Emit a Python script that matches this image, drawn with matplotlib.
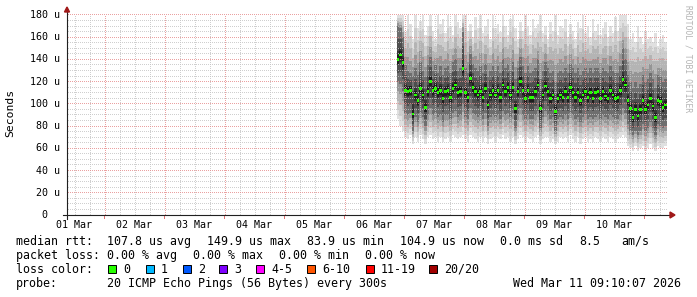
import numpy as np
import pandas as pd
import matplotlib
matplotlib.use("Agg")
import matplotlib.pyplot as plt
import matplotlib.dates as mdates
from matplotlib.patches import Rectangle, Polygon
from matplotlib.transforms import IdentityTransform

W, H = 697, 297
MONO = "DejaVu Sans Mono"

# graph window (rrdtool week view, end = graph time)
start = pd.Timestamp("2026-03-01 09:10:07")
end = pd.Timestamp("2026-03-11 09:10:07")
first = pd.Timestamp("2026-03-06 21:00")   # first hour with data

# median rtt per hour, in us
median = [140, 144, 137, 112, 111, 112, 91, 108, 103, 114, 108, 97, 111, 120, 112, 114, 110, 112, 105, 111,
          112, 106, 114, 117, 110, 111, 132, 110, 106, 123, 115, 111, 108, 111, 106, 114, 99, 108, 112, 108,
          112, 106, 117, 111, 115, 108, 115, 96, 111, 120, 112, 105, 112, 106, 106, 111, 117, 96, 108, 116,
          111, 105, 108, 93, 105, 108, 106, 111, 106, 115, 110, 106, 110, 103, 108, 111, 106, 110, 105, 110,
          111, 105, 111, 107, 105, 112, 108, 105, 106, 112, 122, 117, 103, 96, 88, 95, 89, 95, 103, 95,
          99, 105, 98, 88, 103, 102, 97, 99, 105]

# smoke: slowest ping per hour
hi_outer = [180, 180, 180, 165, 180, 172, 158, 180, 168, 175, 180, 162, 170, 180, 166, 158, 180, 172, 176, 164,
            180, 170, 162, 180, 174, 168, 180, 180, 166, 172, 160, 178, 168, 180, 164, 170, 176, 158, 180, 168,
            172, 165, 180, 170, 162, 176, 180, 168, 158, 174, 166, 180, 170, 162, 176, 168, 172, 180, 164, 170,
            158, 174, 166, 180, 162, 170, 168, 176, 160, 172, 166, 158, 174, 168, 180, 164, 170, 160, 176, 166,
            172, 162, 168, 174, 160, 170, 164, 178, 166, 180, 180, 180, 172, 158, 164, 156, 170, 160, 154, 166,
            158, 160, 156, 164, 152, 158, 162, 156, 160]

# smoke: upper edge of the dense part
hi_inner = [170, 168, 160, 135, 130, 128, 125, 132, 126, 138, 130, 124, 135, 142, 130, 136, 128, 134, 126, 132,
            134, 128, 138, 140, 130, 132, 165, 132, 128, 145, 136, 132, 130, 134, 128, 136, 124, 130, 134, 130,
            134, 128, 140, 132, 136, 130, 138, 122, 132, 142, 134, 128, 134, 128, 130, 132, 140, 122, 130, 138,
            132, 128, 130, 120, 128, 130, 128, 132, 128, 136, 132, 128, 132, 126, 130, 132, 128, 132, 128, 132,
            132, 128, 132, 130, 128, 134, 130, 128, 128, 134, 150, 140, 126, 120, 114, 120, 114, 118, 126, 120,
            122, 128, 122, 114, 126, 124, 120, 122, 126]

# smoke: lower edge of the dense part
lo_inner = [120, 118, 112, 92, 90, 92, 76, 88, 84, 92, 88, 80, 90, 96, 90, 92, 88, 90, 84, 90,
            90, 86, 92, 94, 88, 90, 100, 88, 86, 96, 92, 90, 88, 90, 86, 92, 80, 88, 90, 88,
            90, 86, 94, 90, 92, 88, 92, 78, 90, 96, 90, 86, 90, 86, 86, 90, 94, 78, 88, 94,
            90, 86, 88, 76, 86, 88, 86, 90, 86, 92, 90, 86, 88, 84, 88, 90, 86, 88, 86, 88,
            90, 86, 90, 88, 86, 90, 88, 86, 86, 90, 96, 92, 82, 76, 72, 76, 72, 76, 82, 76,
            78, 84, 78, 72, 82, 80, 78, 80, 84]

# smoke: fastest ping per hour
lo_outer = [86, 80, 76, 70, 68, 72, 64, 70, 66, 72, 68, 64, 70, 72, 68, 70, 66, 70, 66, 68,
            70, 66, 72, 70, 68, 70, 72, 68, 66, 72, 70, 68, 66, 70, 66, 70, 64, 68, 70, 66,
            70, 68, 72, 68, 70, 66, 70, 64, 68, 72, 70, 66, 70, 68, 66, 70, 72, 64, 68, 70,
            70, 66, 68, 64, 66, 70, 68, 70, 66, 72, 68, 66, 70, 64, 68, 70, 66, 68, 66, 70,
            68, 66, 70, 68, 66, 70, 68, 66, 68, 70, 72, 70, 62, 60, 58, 62, 58, 60, 62, 58,
            60, 64, 60, 58, 62, 60, 60, 62, 64]

loss_labels = ["0", "1", "2", "3", "4-5", "6-10", "11-19", "20/20"]
loss_colors = ["#26ff00", "#00b8ff", "#0059ff", "#7e00ff", "#ff00ff", "#ff5500", "#ff0000", "#a10000"]
loss_box_x = [108, 146, 183, 219, 256, 307, 366, 429]

stats_rtt = [("median rtt:", 16), ("107.8 us avg", 107), ("149.9 us max", 207), ("83.9 us min", 307),
             ("104.9 us now", 400), ("0.0 ms sd", 500), ("8.5", 579), ("am/s", 621)]
stats_loss = [("packet loss:", 16), ("0.00 % avg", 107), ("0.00 % max", 193), ("0.00 % min", 279),
              ("0.00 % now", 365)]


def px(x, y):
    return (x / W, 1 - y / H)


fig = plt.figure(figsize=(W / 100, H / 100), dpi=100)
fig.patch.set_facecolor("white")
ax = fig.add_axes([67 / W, (H - 215) / H, 600 / W, 200 / H])
ax.set_xlim(mdates.date2num(start), mdates.date2num(end))
ax.set_ylim(0, 180)
for s in ax.spines.values():
    s.set_visible(False)
ax.tick_params(which="both", length=0, labelleft=False, labelbottom=False)

edges = mdates.date2num(pd.date_range(first, periods=len(median) + 1, freq="h"))
med = np.array(median, float)
ho, hi_ = np.array(hi_outer, float), np.array(hi_inner, float)
lo, li = np.array(lo_outer, float), np.array(lo_inner, float)

# smoke, outer (light) to inner (dark)
for f, c in [(0.0, "#e0e0e0"), (0.25, "#cdcdcd"), (0.5, "#b4b4b4"), (0.75, "#959595")]:
    ax.stairs(ho + (hi_ - ho) * f, edges, baseline=lo + (li - lo) * f, fill=True, color=c, lw=0)
ax.stairs(hi_, edges, baseline=li, fill=True, color="#6e6e6e", lw=0)
for f, c in [(0.4, "#4e4e4e"), (0.75, "#353535")]:
    ax.stairs(hi_ + (med - hi_) * f, edges, baseline=li + (med - li) * f, fill=True, color=c, lw=0)
ax.stairs(med + 4, edges, baseline=med - 4, fill=True, color="#1e1e1e", lw=0)

# median, coloured by loss (all 0 here)
ax.bar(edges[:-1], 2.4, bottom=med - 1.2, width=1 / 24, align="edge",
       color=loss_colors[0], lw=0, zorder=4)

# rrdtool style 1-pixel dotted grid, drawn in display pixels
fig.canvas.draw()
x0, x1 = 67, 667
ytop = H - 215  # display y of value 0


def hline_dots(v):
    yd = np.floor(ax.transData.transform((0, v))[1]) + 0.5
    xs = np.arange(x0, x1, 2) + 0.5
    return xs, np.full(xs.size, yd)


def vline_dots(t):
    xd = np.floor(ax.transData.transform((t, 0))[0]) + 0.5
    ys = np.arange(ytop, ytop + 200, 2) + 0.5
    return np.full(ys.size, xd), ys


minor_pts, major_pts = [], []
for v in range(5, 181, 5):
    (major_pts if v % 20 == 0 else minor_pts).append(hline_dots(v))
for t in pd.date_range("2026-03-01 12:00", "2026-03-11 06:00", freq="6h"):
    tn = mdates.date2num(t)
    if mdates.date2num(start) < tn < mdates.date2num(end):
        (major_pts if t.hour == 0 else minor_pts).append(vline_dots(tn))
for pts, c in [(minor_pts, "#c4c4c4"), (major_pts, "#e58a8a")]:
    xs = np.concatenate([p[0] for p in pts])
    ys = np.concatenate([p[1] for p in pts])
    ax.plot(xs, ys, ls="none", marker=",", color=c, alpha=0.8, transform=IdentityTransform(),
            clip_on=False, zorder=2.5)

# small red ticks under the x axis at midnight
for d in range(2, 12):
    tn = mdates.date2num(pd.Timestamp(2026, 3, d))
    if tn < mdates.date2num(end):
        ax.plot([tn, tn], [0, -3 / 200], transform=ax.get_xaxis_transform(), color="#e07070",
                lw=0.7, clip_on=False, zorder=5)

# axes with arrows
ax.plot([-4 / 600, 604 / 600], [0, 0], transform=ax.transAxes, color="#202020", lw=0.8,
        clip_on=False, zorder=5)
ax.plot([0, 0], [-4 / 200, 204 / 200], transform=ax.transAxes, color="#202020", lw=0.8,
        clip_on=False, zorder=5)
fig.patches.append(Polygon([px(670, 212), px(670, 218), px(675, 215)], closed=True,
                           transform=fig.transFigure, color="#a01818"))
fig.patches.append(Polygon([px(64.5, 12), px(69.5, 12), px(67, 7)], closed=True,
                           transform=fig.transFigure, color="#a01818"))

# y tick labels
for v in range(0, 181, 20):
    lab = f"{v:3d} u" if v else "  0"
    fig.text(30 / W, 1 - (215 - v * 200 / 180) / H, lab, family=MONO, fontsize=7.2,
             ha="left", va="center")

# x tick labels, centred on noon
for d in range(1, 11):
    noon = mdates.date2num(pd.Timestamp(2026, 3, d, 12))
    ax.text(noon, -10 / 200, f"{d:02d} Mar", transform=ax.get_xaxis_transform(),
            family=MONO, fontsize=7.2, ha="center", va="center")

fig.text(*px(10, 113), "Seconds", family=MONO, fontsize=8.2, rotation=90,
         ha="center", va="center")
fig.text(*px(688, 59), "RRDTOOL / TOBI OETIKER", family=MONO, fontsize=5.8,
         rotation=270, ha="center", va="center", color="#b4b4b4")

# legend
for txt, x in stats_rtt:
    fig.text(*px(x, 241.5), txt, family=MONO, fontsize=8.4, ha="left", va="center")
for txt, x in stats_loss:
    fig.text(*px(x, 255.5), txt, family=MONO, fontsize=8.4, ha="left", va="center")
fig.text(*px(16, 269.5), "loss color:", family=MONO, fontsize=8.4, ha="left", va="center")
for lab, c, x in zip(loss_labels, loss_colors, loss_box_x):
    fig.patches.append(Rectangle(px(x, 273), 8 / W, 8 / H, transform=fig.transFigure,
                                 facecolor=c, edgecolor="black", lw=0.7))
    fig.text(*px(x + 15, 269.5), lab, family=MONO, fontsize=8.4, ha="left", va="center")
fig.text(*px(16, 283.5), "probe:", family=MONO, fontsize=8.4, ha="left", va="center")
fig.text(*px(107, 283.5), "20 ICMP Echo Pings (56 Bytes) every 300s", family=MONO,
         fontsize=8.4, ha="left", va="center")
fig.text(*px(513, 283.5), "Wed Mar 11 09:10:07 2026", family=MONO, fontsize=8.4,
         ha="left", va="center")

fig.savefig("out.png", dpi=100)
